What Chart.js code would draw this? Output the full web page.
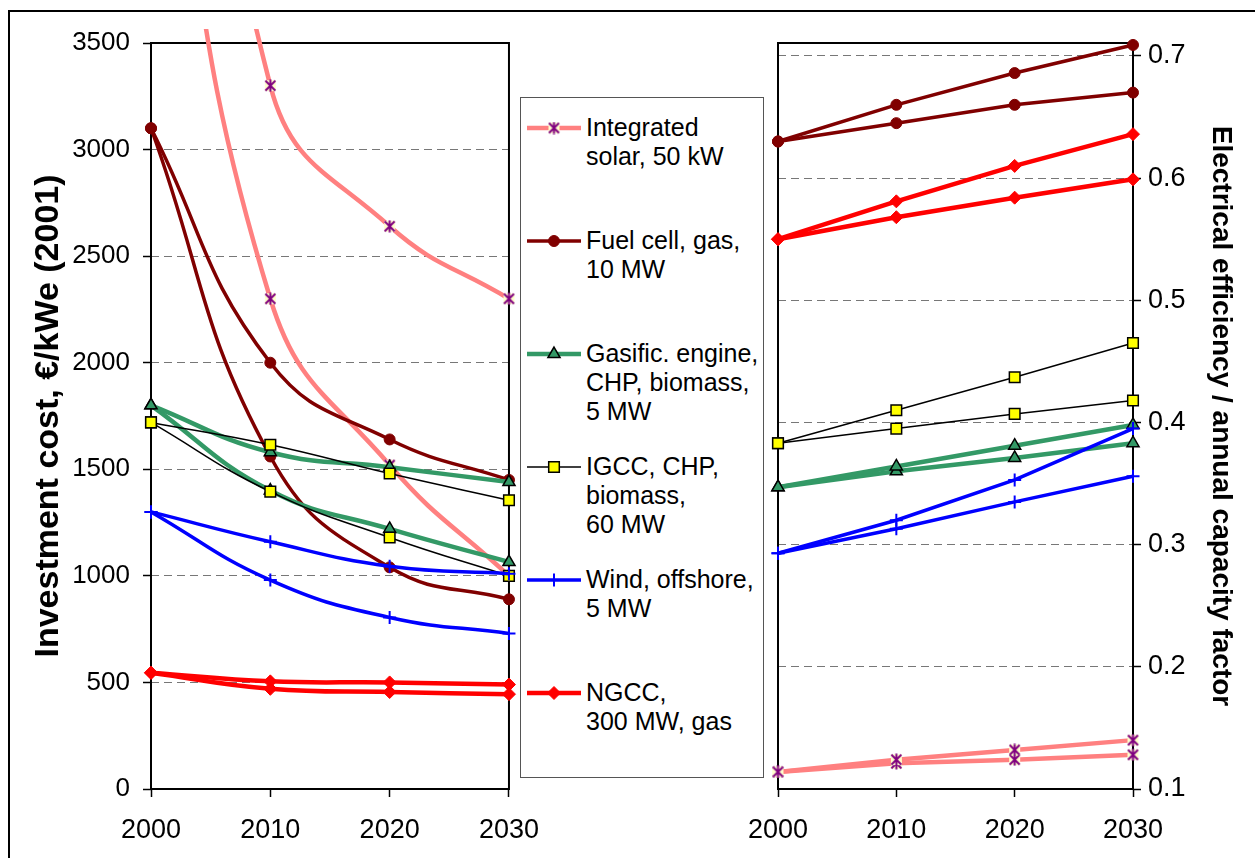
<!DOCTYPE html>
<html>
<head>
<meta charset="utf-8">
<script src="https://cdn.jsdelivr.net/npm/chart.js@4"></script>
<style>
body { margin: 0; background: #fff; overflow: hidden; }
#wrap { position: relative; width: 1255px; height: 858px; }
#frame { position: absolute; left: 8px; top: 10px; width: 1270px; height: 870px; border: 2px solid #000; box-sizing: border-box; }
#cost { position: absolute; left: 0; top: 0; }
#eff { position: absolute; left: 730px; top: 0; }
#legend { position: absolute; left: 520px; top: 97px; width: 244px; height: 681px; border: 1px solid #555; box-sizing: border-box; background: #fff; z-index: 2;
  font: 25px "Liberation Sans", Arial, sans-serif; color: #000; }
.item { position: absolute; left: 0; width: 240px; }
.item canvas { position: absolute; left: 6px; top: 5px; }
.item div { position: absolute; left: 65px; top: 0; white-space: pre; line-height: 29px; }
</style>
</head>
<body>
<div id="wrap">
  <div id="frame"></div>
  <canvas id="cost" width="556" height="858"></canvas>
  <canvas id="eff" width="525" height="858"></canvas>
  <div id="legend"></div>
</div>
<script>
// x categories
const years = ["2000", "2010", "2020", "2030"];

// technologies (legend order)
const techNames = [
  "Integrated\nsolar, 50 kW",
  "Fuel cell, gas,\n10 MW",
  "Gasific. engine,\nCHP, biomass,\n5 MW",
  "IGCC, CHP,\nbiomass,\n60 MW",
  "Wind, offshore,\n5 MW",
  "NGCC,\n300 MW, gas"
];

// investment cost, EUR/kWe (2001) - upper and lower path per technology
const solarCostHigh = [7000, 3300, 2640, 2300];
const solarCostLow  = [5200, 2300, 1520, 1000];
const fuelCostHigh  = [3100, 2000, 1640, 1450];
const fuelCostLow   = [3100, 1560, 1040, 890];
const gasifCostHigh = [1800, 1580, 1510, 1440];
const gasifCostLow  = [1800, 1400, 1220, 1065];
const igccCostHigh  = [1720, 1615, 1480, 1355];
const igccCostLow   = [1720, 1395, 1180, 1000];
const windCostHigh  = [1300, 1160, 1045, 1010];
const windCostLow   = [1300, 980, 805, 730];
const ngccCostHigh  = [545, 505, 500, 490];
const ngccCostLow   = [545, 470, 455, 445];

// electrical efficiency / annual capacity factor
const solarEffHigh = [0.114, 0.124, 0.132, 0.140];
const solarEffLow  = [0.114, 0.121, 0.124, 0.128];
const fuelEffHigh  = [0.630, 0.660, 0.686, 0.709];
const fuelEffLow   = [0.630, 0.645, 0.660, 0.670];
const gasifEffHigh = [0.347, 0.364, 0.381, 0.398];
const gasifEffLow  = [0.347, 0.360, 0.371, 0.383];
const igccEffHigh  = [0.383, 0.410, 0.437, 0.465];
const igccEffLow   = [0.383, 0.395, 0.407, 0.418];
const windEffHigh  = [0.293, 0.320, 0.353, 0.395];
const windEffLow   = [0.293, 0.313, 0.335, 0.356];
const ngccEffHigh  = [0.550, 0.581, 0.610, 0.636];
const ngccEffLow   = [0.550, 0.568, 0.584, 0.599];

// axis ticks
const costTicks = [0, 500, 1000, 1500, 2000, 2500, 3000, 3500];
const effTicks = [0.1, 0.2, 0.3, 0.4, 0.5, 0.6, 0.7];

const costSeries = [
  [solarCostHigh, solarCostLow], [fuelCostHigh, fuelCostLow], [gasifCostHigh, gasifCostLow],
  [igccCostHigh, igccCostLow], [windCostHigh, windCostLow], [ngccCostHigh, ngccCostLow]
];
const effSeries = [
  [solarEffHigh, solarEffLow], [fuelEffHigh, fuelEffLow], [gasifEffHigh, gasifEffLow],
  [igccEffHigh, igccEffLow], [windEffHigh, windEffLow], [ngccEffHigh, ngccEffLow]
];

Chart.defaults.font.family = '"Liberation Sans", Arial, sans-serif';
Chart.defaults.color = "#000";

// excel style asterisk marker on pale yellow
function starMarker() {
  const c = document.createElement("canvas");
  c.width = 13; c.height = 13;
  const g = c.getContext("2d");
  g.fillStyle = "#FFFFCC";
  g.fillRect(1, 1, 11, 11);
  g.strokeStyle = "#800080";
  g.lineWidth = 2;
  g.beginPath();
  g.moveTo(6.5, 0.5); g.lineTo(6.5, 12.5);
  g.moveTo(1.5, 1.5); g.lineTo(11.5, 11.5);
  g.moveTo(11.5, 1.5); g.lineTo(1.5, 11.5);
  g.stroke();
  return c;
}

const styles = [
  { color: "#FF8080", width: 4.5, point: starMarker(), radius: 6, fill: "#FFFFCC", edge: "#800080", edgeW: 0 },
  { color: "#800000", width: 3.5, point: "circle", radius: 5.5, fill: "#800000", edge: "#800000", edgeW: 1 },
  { color: "#339966", width: 4.5, point: "triangle", radius: 7, fill: "#339966", edge: "#000", edgeW: 1.5 },
  { color: "#000000", width: 1.5, point: "rect", radius: 7.5, fill: "#FFFF00", edge: "#000", edgeW: 1.5 },
  { color: "#0000FF", width: 3.5, point: "cross", radius: 6.5, fill: "#0000FF", edge: "#0000FF", edgeW: 2 },
  { color: "#FF0000", width: 4.5, point: "rectRot", radius: 6.5, fill: "#FF0000", edge: "#FF0000", edgeW: 1 }
];

function makeSets(seriesList, tension) {
  const sets = [];
  seriesList.forEach((pair, i) => {
    const st = styles[i];
    pair.forEach((vals, j) => {
      sets.push({
        label: techNames[i].replace(/\n/g, " ") + (j ? " (low)" : " (high)"),
        data: vals,
        borderColor: st.color,
        borderWidth: st.width,
        tension: tension,
        pointStyle: st.point,
        pointRadius: st.radius,
        pointBackgroundColor: st.fill,
        pointBorderColor: st.edge,
        pointBorderWidth: st.edgeW,
        order: 20 - i,
        clip: { left: 10, top: 14, right: 10, bottom: 10 }
      });
    });
  });
  return sets;
}

// black box round the plot area
const frameBox = {
  id: "frameBox",
  beforeDatasetsDraw(chart) {
    const a = chart.chartArea, ctx = chart.ctx;
    ctx.save();
    ctx.strokeStyle = "#000";
    ctx.lineWidth = 2;
    ctx.strokeRect(a.left, a.top, a.right - a.left, a.bottom - a.top);
    ctx.restore();
  }
};

const xAxis = {
  offset: false,
  grid: { drawOnChartArea: false, tickLength: 8, tickColor: "#000", tickWidth: 1.5 },
  border: { display: false },
  ticks: { font: { size: 27 }, padding: 17, maxRotation: 0 },
  afterFit: s => { s.height = 69; }
};

new Chart(document.getElementById("cost"), {
  type: "line",
  data: { labels: years, datasets: makeSets(costSeries, 0.45) },
  options: {
    responsive: false,
    animation: false,
    layout: { padding: { top: 43, right: 47, left: 0, bottom: 0 } },
    plugins: { legend: { display: false }, tooltip: { enabled: false } },
    scales: {
      x: xAxis,
      y: {
        min: costTicks[0], max: costTicks[costTicks.length - 1],
        ticks: { font: { size: 26 }, padding: 13, callback: v => String(v) },
        afterBuildTicks: s => { s.ticks = costTicks.map(v => ({ value: v })); },
        grid: { color: "#777", tickColor: "#000", tickLength: 8, tickWidth: 1.5 },
        border: { display: false, dash: [8, 5] },
        title: { display: true, text: "Investment cost, €/kWe (2001)", font: { size: 34, weight: "bold" }, padding: { top: 28, bottom: 0 } },
        afterFit: s => { s.width = 151; }
      }
    }
  },
  plugins: [frameBox]
});

new Chart(document.getElementById("eff"), {
  type: "line",
  data: { labels: years, datasets: makeSets(effSeries, 0) },
  options: {
    responsive: false,
    animation: false,
    layout: { padding: { top: 43, right: 0, left: 48, bottom: 0 } },
    plugins: { legend: { display: false }, tooltip: { enabled: false } },
    scales: {
      x: xAxis,
      y: {
        position: "right",
        min: 0.1, max: 0.7106,
        ticks: { font: { size: 27 }, padding: 7, callback: v => v.toFixed(1) },
        afterBuildTicks: s => { s.ticks = effTicks.map(v => ({ value: v })); },
        grid: { color: "#777", tickColor: "#000", tickLength: 8, tickWidth: 1.5 },
        border: { display: false, dash: [8, 5] },
        title: { display: true, text: "Electrical efficiency / annual capacity factor", font: { size: 28, weight: "bold" }, padding: { top: 17, bottom: 0 } },
        afterFit: s => { s.width = 122; }
      }
    }
  },
  plugins: [frameBox]
});

// legend
const legend = document.getElementById("legend");
techNames.forEach((name, i) => {
  const st = styles[i];
  const item = document.createElement("div");
  item.className = "item";
  item.style.top = (15 + i * 113) + "px";
  const cv = document.createElement("canvas");
  cv.width = 54; cv.height = 20;
  const g = cv.getContext("2d");
  g.strokeStyle = st.color;
  g.lineWidth = st.width;
  g.beginPath(); g.moveTo(0, 10); g.lineTo(54, 10); g.stroke();
  g.fillStyle = st.fill;
  g.strokeStyle = st.edge;
  g.lineWidth = st.edgeW;
  Chart.helpers.drawPoint(g, { pointStyle: st.point, radius: st.radius, borderWidth: st.edgeW, rotation: 0 }, 27, 10);
  const txt = document.createElement("div");
  txt.textContent = name;
  item.appendChild(cv);
  item.appendChild(txt);
  legend.appendChild(item);
});
</script>
</body>
</html>
